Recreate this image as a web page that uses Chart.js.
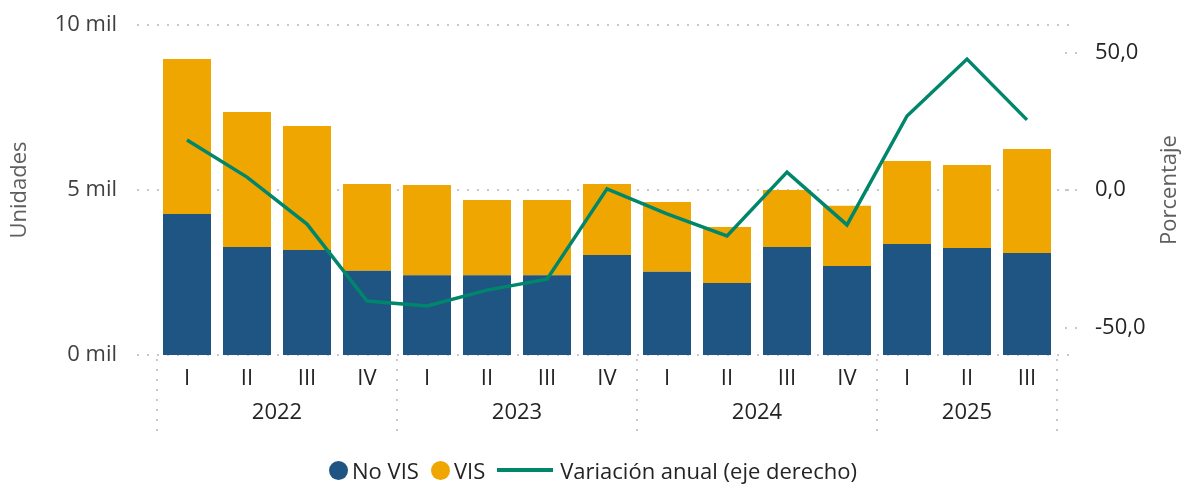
<!DOCTYPE html>
<html>
<head>
<meta charset="utf-8">
<script src="https://cdn.jsdelivr.net/npm/chart.js@4.4.1/dist/chart.umd.min.js"></script>
<style>
	body { margin: 0; background: #fff; font-family: "Open Sans", sans-serif; }
	#wrap { position: relative; width: 1186px; height: 488px; }
	#legend {
		position: absolute; left: 0; right: 0; top: 455px;
		display: flex; justify-content: center; align-items: center;
		font-size: 22px; color: #252423;
	}
	#legend span.item { display: flex; align-items: center; margin: 0 6px; }
	#legend .dot { width: 19px; height: 19px; border-radius: 50%; margin-right: 4px; }
	#legend .ln { width: 56px; height: 4px; margin-right: 7px; }
</style>
</head>
<body>
<div id="wrap">
	<canvas id="viviendaChart"></canvas>
	<div id="legend"></div>
</div>
<script>
// quarters and years of the x axis
const quarters = ["I","II","III","IV","I","II","III","IV","I","II","III","IV","I","II","III"];
const years = ["2022","2023","2024","2025"];
const quartersPerYear = [4, 4, 4, 3];

// units (left axis)
const noVis = [4270, 3270, 3180, 2550, 2420, 2420, 2420, 3030, 2520, 2180, 3270, 2700, 3360, 3240, 3090];
const vis   = [4700, 4090, 3760, 2630, 2730, 2280, 2280, 2150, 2120, 1700, 1730, 1820, 2520, 2520, 3150];

// annual change, % (right axis)
const variacion = [18.2, 4.7, -12.4, -40.4, -42.2, -36.4, -32.4, 0.4, -8.7, -16.7, 6.5, -12.7, 26.9, 47.6, 25.5];

const leftTicks = [0, 5000, 10000];
const rightTicks = [-50, 0, 50];
const leftTitle = "Unidades";
const rightTitle = "Porcentaje";

const colNoVis = "#1F5583";
const colVis = "#F0A600";
const colLine = "#00866B";
const txtColor = "#252423";

document.addEventListener("DOMContentLoaded", () => {

	// dotted gridlines, right tick marks, year row and axis titles
	const extrasPlugin = {
		id: "extras",
		beforeDatasetsDraw(chart) {
			const { ctx, chartArea } = chart;
			const y = chart.scales.y;
			const y1 = chart.scales.y1;
			ctx.save();
			ctx.strokeStyle = "#C8C8C8";
			ctx.lineWidth = 2;
			ctx.setLineDash([2, 8]);
			leftTicks.forEach(v => {
				const py = Math.round(y.getPixelForValue(v));
				ctx.beginPath();
				ctx.moveTo(chartArea.left - 20, py);
				ctx.lineTo(chartArea.right + 13, py);
				ctx.stroke();
			});
			rightTicks.forEach(v => {
				const py = Math.round(y1.getPixelForValue(v));
				ctx.beginPath();
				ctx.moveTo(chartArea.right + 8, py);
				ctx.lineTo(chartArea.right + 20, py);
				ctx.stroke();
			});
			ctx.restore();
		},
		afterDraw(chart) {
			const { ctx, chartArea } = chart;
			const x = chart.scales.x;
			const step = x.getPixelForValue(1) - x.getPixelForValue(0);
			ctx.save();
			// year separators
			ctx.strokeStyle = "#C8C8C8";
			ctx.lineWidth = 2;
			ctx.setLineDash([2, 8]);
			let idx = 0;
			const bounds = [x.getPixelForValue(0) - step / 2];
			quartersPerYear.forEach(n => {
				idx += n;
				bounds.push(x.getPixelForValue(idx - 1) + step / 2);
			});
			bounds.forEach(bx => {
				const px = Math.round(bx);
				ctx.beginPath();
				ctx.moveTo(px, chartArea.bottom + 4);
				ctx.lineTo(px, chartArea.bottom + 82);
				ctx.stroke();
			});
			ctx.setLineDash([]);
			// year labels
			ctx.fillStyle = txtColor;
			ctx.font = "22px 'Open Sans'";
			ctx.textAlign = "center";
			ctx.textBaseline = "middle";
			years.forEach((yr, i) => {
				ctx.fillText(yr, (bounds[i] + bounds[i + 1]) / 2, chartArea.bottom + 58);
			});
			// axis titles
			ctx.fillStyle = "#605E5C";
			const midY = (chartArea.top + chartArea.bottom) / 2;
			ctx.translate(20, midY);
			ctx.rotate(-Math.PI / 2);
			ctx.fillText(leftTitle, 0, 0);
			ctx.rotate(Math.PI / 2);
			ctx.translate(-20, -midY);
			ctx.translate(1170, midY);
			ctx.rotate(-Math.PI / 2);
			ctx.fillText(rightTitle, 0, 0);
			ctx.restore();
		}
	};

	window.viviendaChart = new Chart(document.getElementById("viviendaChart"), {
		type: "bar",
		data: {
			labels: quarters,
			datasets: [
				{ type: "line", label: "Variación anual (eje derecho)", data: variacion, yAxisID: "y1",
				  borderColor: colLine, borderWidth: 3.5, pointRadius: 0, tension: 0, order: 0 },
				{ label: "No VIS", data: noVis, backgroundColor: colNoVis, yAxisID: "y", stack: "u",
				  categoryPercentage: 1, barPercentage: 0.8, order: 1 },
				{ label: "VIS", data: vis, backgroundColor: colVis, yAxisID: "y", stack: "u",
				  categoryPercentage: 1, barPercentage: 0.8, order: 1 }
			]
		},
		options: {
			responsive: true,
			maintainAspectRatio: false,
			animation: false,
			layout: { padding: { top: 25, bottom: 0, left: 0, right: 0 } },
			plugins: {
				legend: { display: false },
				tooltip: { enabled: false }
			},
			scales: {
				x: {
					stacked: true,
					grid: { display: false, drawTicks: false },
					border: { display: false },
					ticks: { color: txtColor, font: { family: "Open Sans", size: 22 }, padding: 11, maxRotation: 0 },
					afterFit: s => { s.height = 133; }
				},
				y: {
					stacked: true,
					position: "left",
					min: 0, max: 10000,
					// tick marks are hidden; tickLength only makes the gap to the labels
					grid: { display: false, drawTicks: true, tickLength: 40 },
					border: { display: false },
					afterBuildTicks: s => { s.ticks = leftTicks.map(v => ({ value: v })); },
					ticks: { color: "#404040", font: { family: "Open Sans", size: 22 }, padding: 0,
						callback: v => (v / 1000) + " mil" },
					afterFit: s => { s.width = 157; }
				},
				y1: {
					position: "right",
					min: -60, max: 60,
					grid: { display: false, drawTicks: true, tickLength: 38 },
					border: { display: false },
					afterBuildTicks: s => { s.ticks = rightTicks.map(v => ({ value: v })); },
					ticks: { color: txtColor, font: { family: "Open Sans", size: 22 }, padding: 0,
						callback: v => v.toFixed(1).replace(".", ",") },
					afterFit: s => { s.width = 129; }
				}
			}
		},
		plugins: [extrasPlugin]
	});

	// legend
	const legend = document.getElementById("legend");
	legend.innerHTML =
		`<span class="item"><span class="dot" style="background:${colNoVis}"></span>No VIS</span>` +
		`<span class="item"><span class="dot" style="background:${colVis}"></span>VIS</span>` +
		`<span class="item"><span class="ln" style="background:${colLine}"></span>Variación anual (eje derecho)</span>`;
});
</script>
</body>
</html>
